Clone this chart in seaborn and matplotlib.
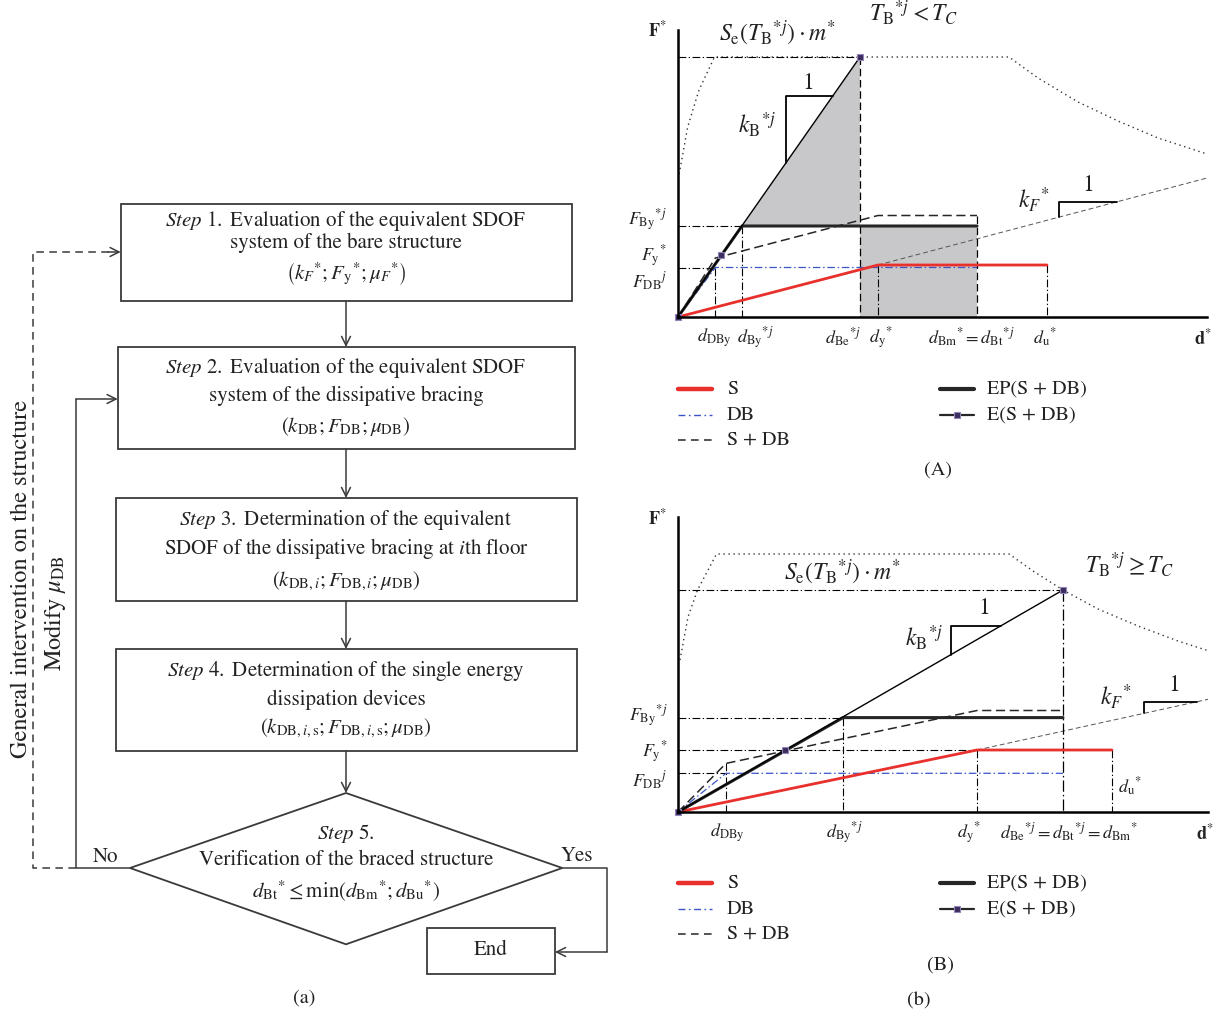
import numpy as np
import pandas as pd
import matplotlib
matplotlib.use('Agg')
import matplotlib.pyplot as plt
import seaborn as sns
from matplotlib.patches import Rectangle, Polygon

sns.set_theme(style='white')
plt.rcParams['font.family'] = ['STIXGeneral', 'DejaVu Serif']
plt.rcParams['mathtext.fontset'] = 'stix'

# ---------------- data: chart (A)  T_B*j < T_C ----------------
A_S_d = [0, 200, 369];            A_S_F = [0, 52, 52]
A_DB_d = [0, 37.4, 299];          A_DB_F = [0, 49.5, 49.5]
A_SDB_d = [0, 37.4, 200, 299];    A_SDB_F = [0, 59, 101.5, 101.5]
A_EP_d = [0, 64, 299];            A_EP_F = [0, 91, 91]
A_E_d = [0, 43.5, 182];           A_E_F = [0, 62, 260]
A_kF_d = [200, 529];              A_kF_F = [52, 139]
A_spec_d = [1.2, 9.7, 21, 36.5, 331, 360, 400, 440, 480, 529]
A_spec_F = [143, 190, 227, 260, 260, 239, 215, 196, 179, 163]

# ---------------- data: chart (B)  T_B*j >= T_C ----------------
B_S_d = [0, 299, 434];            B_S_F = [0, 62, 62]
B_DB_d = [0, 48, 385];            B_DB_F = [0, 38.7, 38.7]
B_SDB_d = [0, 48, 299, 385];      B_SDB_F = [0, 48.6, 101.5, 101.5]
B_EP_d = [0, 165, 385];           B_EP_F = [0, 94.4, 94.4]
B_E_d = [0, 107.5, 385];          B_E_F = [0, 62, 222]
B_kF_d = [299, 530];              B_kF_F = [62, 112.7]
B_spec_d = [2, 10, 19.5, 38.5, 331, 355, 385, 420, 460, 500, 531]
B_spec_F = [152, 195, 222, 258, 258, 241, 222, 203, 186, 171, 161]

legend_labels_left = ['S', 'DB', 'S + DB']
legend_labels_right = ['EP(S + DB)', 'E(S + DB)']

RED = '#e8302c'
BLUE = '#3b55c8'
DARK = '#262626'
GRAY_FILL = '#c8c8ca'
MK_FACE = '#3b2d5c'
MK_EDGE = '#9484bb'

W, H = 1226, 1021
fig = plt.figure(figsize=(W / 100, H / 100), dpi=100)
fig.patch.set_facecolor('white')

# background axes in pixel coordinates (flowchart, legends, captions)
ax0 = fig.add_axes([0, 0, 1, 1])
ax0.set_xlim(0, W)
ax0.set_ylim(H, 0)
ax0.axis('off')
ax0.patch.set_visible(False)


def px_axes(left, top, right, bottom):
    return fig.add_axes([left / W, 1 - bottom / H, (right - left) / W, (bottom - top) / H])


DASHDOT = (0, (7, 2.2, 1.2, 2.2))
DASHED = (0, (6, 3))
DOTTED = (0, (1, 2.6))


def guide(ax, xs, ys, ls=DASHDOT, lw=0.8):
    ax.plot(xs, ys, color='black', lw=lw, linestyle=ls, zorder=2, clip_on=False)


def draw_curves(ax, S_d, S_F, DB_d, DB_F, SDB_d, SDB_F, EP_d, EP_F, E_d, E_F, kF_d, kF_F, sp_d, sp_F):
    sns.lineplot(x=sp_d, y=sp_F, ax=ax, color='#333333', lw=1.0, linestyle=DOTTED,
                 sort=False, estimator=None, zorder=2)
    sns.lineplot(x=kF_d, y=kF_F, ax=ax, color='#555555', lw=0.7, linestyle=(0, (5, 3)),
                 sort=False, estimator=None, zorder=2)
    sns.lineplot(x=DB_d, y=DB_F, ax=ax, color=BLUE, lw=0.9, linestyle=(0, (6, 2.2, 1.2, 2.2)),
                 sort=False, estimator=None, zorder=3)
    sns.lineplot(x=SDB_d, y=SDB_F, ax=ax, color=DARK, lw=1.1, linestyle=(0, (6, 3)),
                 sort=False, estimator=None, zorder=3)
    sns.lineplot(x=S_d, y=S_F, ax=ax, color=RED, lw=2.0, sort=False, estimator=None, zorder=4)
    sns.lineplot(x=EP_d, y=EP_F, ax=ax, color=DARK, lw=2.2, sort=False, estimator=None, zorder=4)
    sns.lineplot(x=E_d, y=E_F, ax=ax, color='black', lw=1.0, marker='s', markersize=4.5,
                 markerfacecolor=MK_FACE, markeredgecolor=MK_EDGE, markeredgewidth=0.8,
                 sort=False, estimator=None, zorder=5, clip_on=False)


def style_axes(ax, xmax, ymax):
    ax.set_xlim(0, xmax)
    ax.set_ylim(0, ymax)
    ax.set_xticks([])
    ax.set_yticks([])
    ax.set_xlabel('')
    ax.set_ylabel('')
    ax.patch.set_visible(False)
    for s in ['top', 'right']:
        ax.spines[s].set_visible(False)
    for s in ['left', 'bottom']:
        ax.spines[s].set_color('black')
        ax.spines[s].set_linewidth(1.8)
        ax.spines[s].set_zorder(6)


def slope_triangle(ax, d0, F0, F1, slope_d0, slope_F0, slope):
    # vertical from the line up to F1, then horizontal back to the line
    F_on = slope_F0 + slope * (d0 - slope_d0)
    d_end = slope_d0 + (F1 - slope_F0) / slope
    ax.plot([d0, d0, d_end], [F_on, F1, F1], color='black', lw=1.3, zorder=4)


FS_LAB = 13
FS_BIG = 17

# ======================= chart (A) =======================
axA = px_axes(678, 30, 1207, 317)
draw_curves(axA, A_S_d, A_S_F, A_DB_d, A_DB_F, A_SDB_d, A_SDB_F, A_EP_d, A_EP_F,
            A_E_d, A_E_F, A_kF_d, A_kF_F, A_spec_d, A_spec_F)
# grey areas
axA.fill([A_EP_d[1], A_E_d[-1], A_E_d[-1]], [A_EP_F[1], A_E_F[-1], A_EP_F[1]],
         color=GRAY_FILL, zorder=1, lw=0)
axA.fill_between([A_E_d[-1], A_EP_d[-1]], 0, A_EP_F[-1], color=GRAY_FILL, zorder=1, lw=0)
# guides
guide(axA, [0, A_E_d[-1]], [A_E_F[-1]] * 2)
guide(axA, [0, A_EP_d[1]], [A_EP_F[1]] * 2)
guide(axA, [0, A_DB_d[1]], [A_DB_F[1]] * 2)
guide(axA, [A_DB_d[1]] * 2, [A_DB_F[1], 0])
guide(axA, [A_EP_d[1]] * 2, [A_EP_F[1], 0])
guide(axA, [A_E_d[-1]] * 2, [A_E_F[-1], 0], ls=DASHED, lw=0.9)
guide(axA, [A_S_d[1]] * 2, [A_S_F[1], 0])
guide(axA, [A_EP_d[-1]] * 2, [A_SDB_F[-1], 0], ls=DASHED, lw=0.9)
guide(axA, [A_S_d[-1]] * 2, [A_S_F[-1], 0])
# slope triangles
kB_A = A_E_F[-1] / A_E_d[-1]
slope_triangle(axA, 107.8, 0, 221, 0, 0, kB_A)
kF_A = (A_kF_F[1] - A_kF_F[0]) / (A_kF_d[1] - A_kF_d[0])
slope_triangle(axA, 381, 0, 115.3, A_kF_d[0], A_kF_F[0], kF_A)
style_axes(axA, 529, 287)

tA = dict(clip_on=False, ha='center', va='center', color='#222222')
axA.text(236, 304, r'$T_{\mathrm{B}}{}^{*j} < T_{C}$', fontsize=FS_BIG, **tA)
axA.text(100, 284, r'$S_{\mathrm{e}}\left(T_{\mathrm{B}}{}^{*j}\right)\cdot m^{*}$', fontsize=FS_BIG, **tA)
axA.text(79, 192, r'$k_{\mathrm{B}}{}^{*j}$', fontsize=FS_BIG, **tA)
axA.text(130, 234, '1', fontsize=FS_BIG, **tA)
axA.text(356, 117, r'$k_{F}{}^{*}$', fontsize=FS_BIG, **tA)
axA.text(410, 132, '1', fontsize=FS_BIG, **tA)
axA.text(-21, 287, r'$\mathbf{F}^{*}$', fontsize=FS_LAB, **tA)
axA.text(525, -21, r'$\mathbf{d}^{*}$', fontsize=FS_LAB, **tA)
# y labels
axA.text(-31, A_EP_F[1] + 6, r'$F_{\mathrm{By}}{}^{*j}$', fontsize=FS_LAB, **tA)
axA.text(-24, A_E_F[1] - 1, r'$F_{\mathrm{y}}{}^{*}$', fontsize=FS_LAB, **tA)
axA.text(-28, A_DB_F[1] - 14, r'$F_{\mathrm{DB}}{}^{j}$', fontsize=FS_LAB, **tA)
# x labels
yl = -21
axA.text(A_DB_d[1] - 1, yl, r'$d_{\mathrm{DBy}}$', fontsize=FS_LAB, **tA)
axA.text(A_EP_d[1] + 13, yl, r'$d_{\mathrm{By}}{}^{*j}$', fontsize=FS_LAB, **tA)
axA.text(A_E_d[-1] - 17, yl, r'$d_{\mathrm{Be}}{}^{*j}$', fontsize=FS_LAB, **tA)
axA.text(A_S_d[1] + 3, yl, r'$d_{\mathrm{y}}{}^{*}$', fontsize=FS_LAB, **tA)
axA.text(A_EP_d[-1] - 6, yl, r'$d_{\mathrm{Bm}}{}^{*}=d_{\mathrm{Bt}}{}^{*j}$', fontsize=FS_LAB, **tA)
axA.text(A_S_d[-1] - 2, yl, r'$d_{\mathrm{u}}{}^{*}$', fontsize=FS_LAB, **tA)

# ======================= chart (B) =======================
axB = px_axes(678, 517, 1208, 812)
draw_curves(axB, B_S_d, B_S_F, B_DB_d, B_DB_F, B_SDB_d, B_SDB_F, B_EP_d, B_EP_F,
            B_E_d, B_E_F, B_kF_d, B_kF_F, B_spec_d, B_spec_F)
guide(axB, [0, B_E_d[-1]], [B_E_F[-1]] * 2)
guide(axB, [0, B_EP_d[1]], [B_EP_F[1]] * 2)
guide(axB, [0, B_S_d[1]], [B_S_F[1]] * 2)
guide(axB, [0, B_DB_d[1]], [B_DB_F[1]] * 2)
guide(axB, [B_DB_d[1]] * 2, [B_SDB_F[1], 0])
guide(axB, [B_EP_d[1]] * 2, [B_EP_F[1], 0])
guide(axB, [B_S_d[1]] * 2, [B_S_F[1], 0])
guide(axB, [B_E_d[-1]] * 2, [B_E_F[-1], 0], ls=(0, (9, 2.5, 1.2, 2.5)), lw=0.9)
guide(axB, [B_S_d[-1]] * 2, [B_S_F[-1], 0])
kB_B = B_E_F[-1] / B_E_d[-1]
slope_triangle(axB, 273, 0, 186.3, 0, 0, kB_B)
kF_B = (B_kF_F[1] - B_kF_F[0]) / (B_kF_d[1] - B_kF_d[0])
slope_triangle(axB, 465.5, 0, 110.3, B_kF_d[0], B_kF_F[0], kF_B)
style_axes(axB, 530, 295)

axB.text(452, 247, r'$T_{\mathrm{B}}{}^{*j} \geq T_{C}$', fontsize=FS_BIG, **tA)
axB.text(165, 240, r'$S_{\mathrm{e}}\left(T_{\mathrm{B}}{}^{*j}\right)\cdot m^{*}$', fontsize=FS_BIG, **tA)
axB.text(246, 174, r'$k_{\mathrm{B}}{}^{*j}$', fontsize=FS_BIG, **tA)
axB.text(306, 204, '1', fontsize=FS_BIG, **tA)
axB.text(438, 115, r'$k_{F}{}^{*}$', fontsize=FS_BIG, **tA)
axB.text(496, 127, '1', fontsize=FS_BIG, **tA)
axB.text(-21, 294, r'$\mathbf{F}^{*}$', fontsize=FS_LAB, **tA)
axB.text(527, -21, r'$\mathbf{d}^{*}$', fontsize=FS_LAB, **tA)
axB.text(-30, B_EP_F[1] + 1, r'$F_{\mathrm{By}}{}^{*j}$', fontsize=FS_LAB, **tA)
axB.text(-23, B_S_F[1] - 2, r'$F_{\mathrm{y}}{}^{*}$', fontsize=FS_LAB, **tA)
axB.text(-28, B_DB_F[1] - 7, r'$F_{\mathrm{DB}}{}^{j}$', fontsize=FS_LAB, **tA)
axB.text(B_DB_d[1] + 1, yl, r'$d_{\mathrm{DBy}}$', fontsize=FS_LAB, **tA)
axB.text(B_EP_d[1] + 1, yl, r'$d_{\mathrm{By}}{}^{*j}$', fontsize=FS_LAB, **tA)
axB.text(B_S_d[1] - 8, yl, r'$d_{\mathrm{y}}{}^{*}$', fontsize=FS_LAB, **tA)
axB.text(B_E_d[-1] + 6, yl, r'$d_{\mathrm{Be}}{}^{*j}=d_{\mathrm{Bt}}{}^{*j}=d_{\mathrm{Bm}}{}^{*}$', fontsize=FS_LAB, **tA)
axB.text(B_S_d[-1] + 18, 25, r'$d_{\mathrm{u}}{}^{*}$', fontsize=FS_LAB, **tA)

# ======================= legends =======================
FS_TXT = 14.5


def legend(y0):
    rows = [y0, y0 + 26, y0 + 51]
    ax0.plot([678, 712], [rows[0]] * 2, color=RED, lw=3.2, solid_capstyle='round')
    ax0.plot([678, 712], [rows[1]] * 2, color=BLUE, lw=1.0, linestyle=(0, (5, 2.5, 1.2, 2.5)))
    ax0.plot([678, 712], [rows[2]] * 2, color=DARK, lw=1.1, linestyle=(0, (5, 3.5)))
    for r, lab in zip(rows, legend_labels_left):
        ax0.text(727, r, lab, fontsize=FS_TXT, ha='left', va='center', color='#222222')
    ax0.plot([940, 974], [rows[0]] * 2, color=DARK, lw=3.0, solid_capstyle='round')
    ax0.plot([940, 974], [rows[1]] * 2, color=DARK, lw=1.6)
    ax0.plot([957], [rows[1]], marker='s', markersize=5, markerfacecolor=MK_FACE,
             markeredgecolor=MK_EDGE, markeredgewidth=0.8)
    for r, lab in zip(rows[:2], legend_labels_right):
        ax0.text(987, r, lab, fontsize=FS_TXT, ha='left', va='center', color='#222222')


legend(389)
legend(883)

ax0.text(938, 470, '(A)', fontsize=FS_TXT, ha='center', va='center', color='#222222')
ax0.text(941, 965, '(B)', fontsize=FS_TXT, ha='center', va='center', color='#222222')
ax0.text(919, 1001, '(b)', fontsize=FS_TXT, ha='center', va='center', color='#222222')
ax0.text(304, 998, '(a)', fontsize=FS_TXT, ha='center', va='center', color='#222222')

# ======================= flowchart (a) =======================
LC = '#3a3a3a'
FS_FLOW = 15
boxes = [(120.7, 204, 571.7, 301), (117.7, 347, 575, 449), (116, 498, 576.7, 601), (116, 649, 576.7, 751)]
for (l, t, r, b) in boxes:
    ax0.add_patch(Rectangle((l, t), r - l, b - t, fill=False, edgecolor=LC, lw=1.3))
# End box
ax0.add_patch(Rectangle((427.3, 928.3), 555 - 427.3, 974 - 928.3, fill=False, edgecolor=LC, lw=1.3))
# diamond
ax0.add_patch(Polygon([(346, 793), (562.3, 868), (346, 944.3), (130, 868)], closed=True,
                      fill=False, edgecolor=LC, lw=1.3))

arrow = dict(arrowstyle='->', lw=1.1, color=LC, shrinkA=0, shrinkB=0, mutation_scale=16)
for (y1, y2) in [(301, 347), (449, 498), (601, 649), (751, 793)]:
    ax0.annotate('', xy=(346, y2), xytext=(346, y1), arrowprops=arrow)
# Yes path
ax0.plot([562.3, 607, 607], [868, 868, 952], color=LC, lw=1.1)
ax0.annotate('', xy=(555, 952), xytext=(607, 952), arrowprops=arrow)
# No path (solid)
ax0.plot([130, 76, 76], [868, 868, 399], color=LC, lw=1.1)
ax0.annotate('', xy=(117.7, 399), xytext=(76, 399), arrowprops=arrow)
# general intervention path (dashed)
ax0.plot([76, 33, 33, 112], [868, 868, 252, 252], color=LC, lw=1.1, linestyle=(0, (5, 3.5)))
ax0.annotate('', xy=(120.7, 252), xytext=(108, 252), arrowprops=arrow)

tc = dict(fontsize=FS_FLOW, ha='center', va='center', color='#222222')
cx = 346
ax0.text(491, 950, 'End', **tc)
ax0.text(cx, 221, r'$\mathit{Step\ 1.}$ Evaluation of the equivalent SDOF', **tc)
ax0.text(cx, 243, 'system of the bare structure', **tc)
ax0.text(cx, 274, r'$\left(k_{F}{}^{*};F_{\mathrm{y}}{}^{*};\mu_{F}{}^{*}\right)$', **tc)
ax0.text(cx, 368, r'$\mathit{Step\ 2.}$ Evaluation of the equivalent SDOF', **tc)
ax0.text(cx, 396, 'system of the dissipative bracing', **tc)
ax0.text(cx, 426, r'$(k_{\mathrm{DB}};F_{\mathrm{DB}};\mu_{\mathrm{DB}})$', **tc)
ax0.text(cx, 520, r'$\mathit{Step\ 3.}$ Determination of the equivalent', **tc)
ax0.text(cx, 548, r'SDOF of the dissipative bracing at $\mathit{i}$th floor', **tc)
ax0.text(cx, 581, r'$(k_{\mathrm{DB},i};F_{\mathrm{DB},i};\mu_{\mathrm{DB}})$', **tc)
ax0.text(cx, 671, r'$\mathit{Step\ 4.}$ Determination of the single energy', **tc)
ax0.text(cx, 700, 'dissipation devices', **tc)
ax0.text(cx, 728, r'$(k_{\mathrm{DB},i,\mathrm{s}};F_{\mathrm{DB},i,\mathrm{s}};\mu_{\mathrm{DB}})$', **tc)
ax0.text(cx, 833, r'$\mathit{Step\ 5.}$', **tc)
ax0.text(cx, 860, 'Verification of the braced structure', **tc)
ax0.text(cx, 891, r'$d_{\mathrm{Bt}}{}^{*}\leq\min(d_{\mathrm{Bm}}{}^{*};d_{\mathrm{Bu}}{}^{*})$', **tc)
ax0.text(106, 857, 'No', **tc)
ax0.text(577, 856, 'Yes', **tc)
rot = dict(fontsize=17.5, ha='center', va='center', color='#222222', rotation=90)
ax0.text(21, 579, 'General intervention on the structure', **rot)
ax0.text(55, 613, r'Modify $\mu_{\mathrm{DB}}$', **rot)

fig.savefig('out.png', dpi=100, facecolor='white')
